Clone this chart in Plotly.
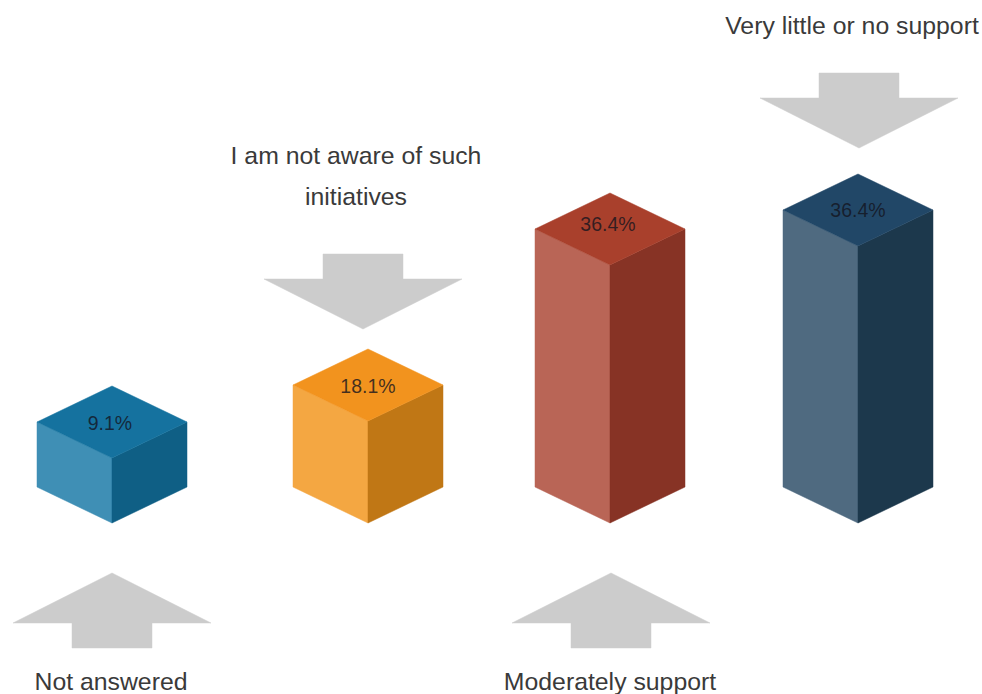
import plotly.graph_objects as go

# ---- data ----
categories = ["Not answered", "I am not aware of such initiatives",
              "Moderately support", "Very little or no support"]
label_lines = [["Not answered"], ["I am not aware of such", "initiatives"],
               ["Moderately support"], ["Very little or no support"]]
percent_values = [9.1, 18.1, 36.4, 36.4]
# front-edge height of every drawn column, in pixels (not proportional in the source)
column_heights = [65, 102, 258, 277]

top_colors = ["#15729f", "#f2931e", "#a9402c", "#214767"]
left_colors = ["#3f8fb5", "#f4a742", "#b96556", "#4f6a80"]
right_colors = ["#0f5f85", "#c07715", "#873325", "#1c384c"]

# ---- layout helpers ----
W, H = 982, 694
BASE = 523
HALF_W = 75
DEPTH = 36
centers = [112, 368, 610, 858]
value_dx = [-2, 0, -2, 0]
value_offsets = [-3, -3, 3, -2]   # label position relative to the top-face centre
ARROW_COLOR = "#cccccc"
# arrow: (centre x, tip y, direction: +1 points up, -1 points down)
arrows = [(112, 573, 1), (363, 329, -1), (611, 573, 1), (859, 148, -1)]
label_x = [111, 356, 610, 852]
label_y = [[684], [158, 199], [684], [28]]


def poly(xs, ys, color):
    return go.Scatter(x=xs + xs[:1], y=ys + ys[:1], mode="lines", fill="toself",
                      fillcolor=color, line=dict(color=color, width=0.5),
                      hoverinfo="skip", showlegend=False)


fig = go.Figure()

for cx, h, t, l, r in zip(centers, column_heights, top_colors, left_colors, right_colors):
    ft = BASE - h
    fig.add_trace(poly([cx - HALF_W, cx, cx, cx - HALF_W],
                       [ft - DEPTH, ft, BASE, BASE - DEPTH], l))
    fig.add_trace(poly([cx, cx + HALF_W, cx + HALF_W, cx],
                       [ft, ft - DEPTH, BASE - DEPTH, BASE], r))
    fig.add_trace(poly([cx, cx + HALF_W, cx, cx - HALF_W],
                       [ft, ft - DEPTH, ft - 2 * DEPTH, ft - DEPTH], t))

for ax, tip, d in arrows:
    wing = tip + d * 50
    tail = tip + d * 75
    fig.add_trace(poly([ax, ax + 99, ax + 40, ax + 40, ax - 40, ax - 40, ax - 99],
                       [tip, wing, wing, tail, tail, wing, wing], ARROW_COLOR))

fig.add_trace(go.Scatter(
    x=[c + d for c, d in zip(centers, value_dx)],
    y=[BASE - h - DEPTH - o for h, o in zip(column_heights, value_offsets)],
    mode="text",
    text=[f"{v}%" for v in percent_values],
    textposition="middle center",
    textfont=dict(family="Liberation Sans, Arial, sans-serif", size=19.5, color="rgba(20,20,30,0.8)"),
    hoverinfo="skip", showlegend=False))

lx, ly, lt = [], [], []
for x, ys, lines in zip(label_x, label_y, label_lines):
    for y, line in zip(ys, lines):
        lx.append(x); ly.append(y); lt.append(line)
fig.add_trace(go.Scatter(
    x=lx, y=ly, mode="text", text=lt, textposition="middle center",
    textfont=dict(family="Liberation Sans, Arial, sans-serif", size=24.8, color="#3a3a3a"),
    hoverinfo="skip", showlegend=False))

fig.update_layout(
    width=W, height=H, margin=dict(l=0, r=0, t=0, b=0),
    paper_bgcolor="white", plot_bgcolor="white", showlegend=False,
    xaxis=dict(visible=False, range=[0, W], fixedrange=True),
    yaxis=dict(visible=False, range=[H, 0], fixedrange=True),
)

fig.write_html("out.html", config={"displayModeBar": False},
               post_script="document.body.style.margin='0';")
